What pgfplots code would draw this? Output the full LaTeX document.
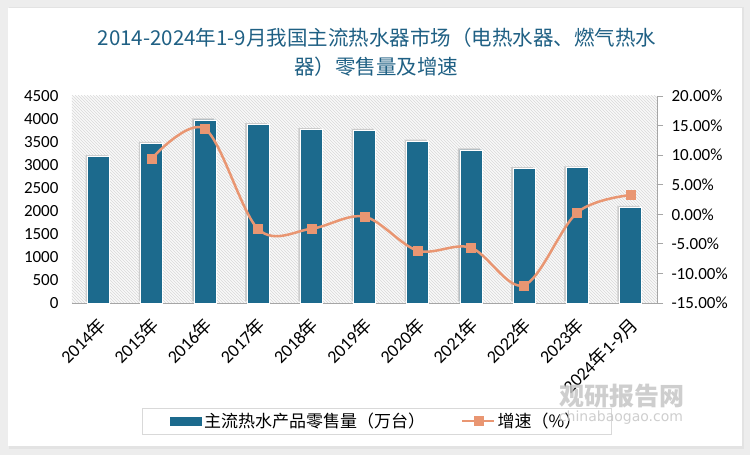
\documentclass[border=0pt]{standalone}
\usepackage{pgfplots}
\pgfplotsset{compat=1.18}
\usepackage{fontspec}
\setmainfont{Carlito}
\newfontfamily\cjk{Noto Sans CJK SC}
\newfontfamily\dejavu{DejaVu Sans}
\usetikzlibrary{patterns}
\definecolor{barcol}{RGB}{28,106,141}
\definecolor{linecol}{RGB}{233,150,114}
\definecolor{titlecol}{RGB}{31,96,132}
\pgfplotsset{
  mylinelegend/.style={legend image code/.code={\draw[mark repeat=2,mark phase=2,##1] plot coordinates {(0pt,0pt) (16pt,0pt) (32pt,0pt)};}},
  mybarlegend/.style={legend image code/.code={\fill[barcol] (0pt,-4pt) rectangle (31pt,4pt);}},
}
\pgfplotstableread{
x sales growth
0 3180 nan
1 3470 9.45
2 3980 14.45
3 3880 -2.50
4 3770 -2.45
5 3750 -0.40
6 3520 -6.15
7 3330 -5.65
8 2920 -12.00
9 2940 0.30
10 2080 3.25
}\datatable
\begin{document}
\begin{tikzpicture}[x=1pt,y=1pt]
% outer background and panel
\fill[gray!14] (0,0) rectangle (750,455);
\fill[gray!22] (9,6) rectangle (744,448);
\fill[white] (8,9) rectangle (742,447);
% title
\node[font=\fontsize{20.5}{24}\selectfont\cjk, text=titlecol] at (377,417) {2014-2024年1-9月我国主流热水器市场（电热水器、燃气热水};
\node[font=\fontsize{20.5}{24}\selectfont\cjk, text=titlecol] at (376,388) {器）零售量及增速};
\begin{axis}[
  at={(72pt,152pt)}, anchor=south west,
  width=585pt, height=207pt, scale only axis,
  xmin=-0.5, xmax=10.5, ymin=0, ymax=4500,
  axis x line*=bottom, axis y line*=left,
  axis line style={-},
  y axis line style={draw=none},
  x axis line style={gray!70, line width=0.9pt},
  major tick length=0pt,
  xtick={0,...,10},
  xticklabels={2014{\cjk 年},2015{\cjk 年},2016{\cjk 年},2017{\cjk 年},2018{\cjk 年},2019{\cjk 年},2020{\cjk 年},2021{\cjk 年},2022{\cjk 年},2023{\cjk 年},2024{\cjk 年}1-9{\cjk 月}},
  xticklabel style={xshift=6pt, yshift=-16pt, rotate=45, anchor=east, font=\fontsize{18}{20}\selectfont},
  ytick={0,500,...,4500},
  yticklabel style={font=\fontsize{17}{19}\selectfont, xshift=-10pt},
  /pgf/number format/assume math mode=true,
  /pgf/number format/1000 sep={},
  axis background/.style={fill=gray!5, postaction={pattern=north west lines, pattern color=gray!30}},
  clip=false,
]
\addplot[ybar, bar width=22pt, bar shift=0pt, fill=barcol, draw=white, line width=0.6pt,
  preaction={fill=gray!40, draw=none, transform canvas={xshift=-2pt, yshift=1.5pt}}]
  table[x=x, y=sales] {\datatable};
\end{axis}
\begin{axis}[
  at={(72pt,152pt)}, anchor=south west,
  width=585pt, height=207pt, scale only axis,
  xmin=-0.5, xmax=10.5, ymin=-15, ymax=20,
  axis x line=none, axis y line*=right,
  axis line style={-},
  y axis line style={gray!70, line width=0.9pt},
  ytick={-15,-10,...,20},
  tick align=outside, major tick length=6pt,
  tick style={gray!70, line width=0.9pt},
  /pgf/number format/assume math mode=true,
  yticklabel={\pgfmathprintnumber[fixed,fixed zerofill,precision=2,assume math mode=true]{\tick}\%},
  yticklabel style={font=\fontsize{17}{19}\selectfont, xshift=5pt},
  legend columns=2,
  legend style={at={(0.521,-0.57)}, anchor=center, draw=gray!30, line width=0.8pt,
    font=\fontsize{17}{19}\selectfont\cjk, inner xsep=28pt, inner ysep=3pt,
    /tikz/every even column/.append style={column sep=34pt}},
  legend cell align=left,
  clip=false,
]
\addlegendimage{mybarlegend}
\addlegendentry{主流热水产品零售量（万台）}
\addplot[color=linecol, line width=2.5pt, smooth, tension=0.55, mark=square*, mark size=4.5pt,
  mark options={fill=linecol, draw=linecol, line width=0.5pt}, mylinelegend]
  table[x=x, y=growth, unbounded coords=discard] {\datatable};
\addlegendentry{增速（\%）}
\end{axis}
% watermark (drawn over the legend, as in the reference)
\node[font=\fontsize{25}{28}\selectfont\cjk\bfseries, text=gray!45, opacity=0.85] at (622,59) {观研报告网};
\node[font=\fontsize{14}{16}\selectfont\dejavu, text=gray!45, opacity=0.85] at (621,37) {chinabaogao.com};
\end{tikzpicture}
\end{document}
